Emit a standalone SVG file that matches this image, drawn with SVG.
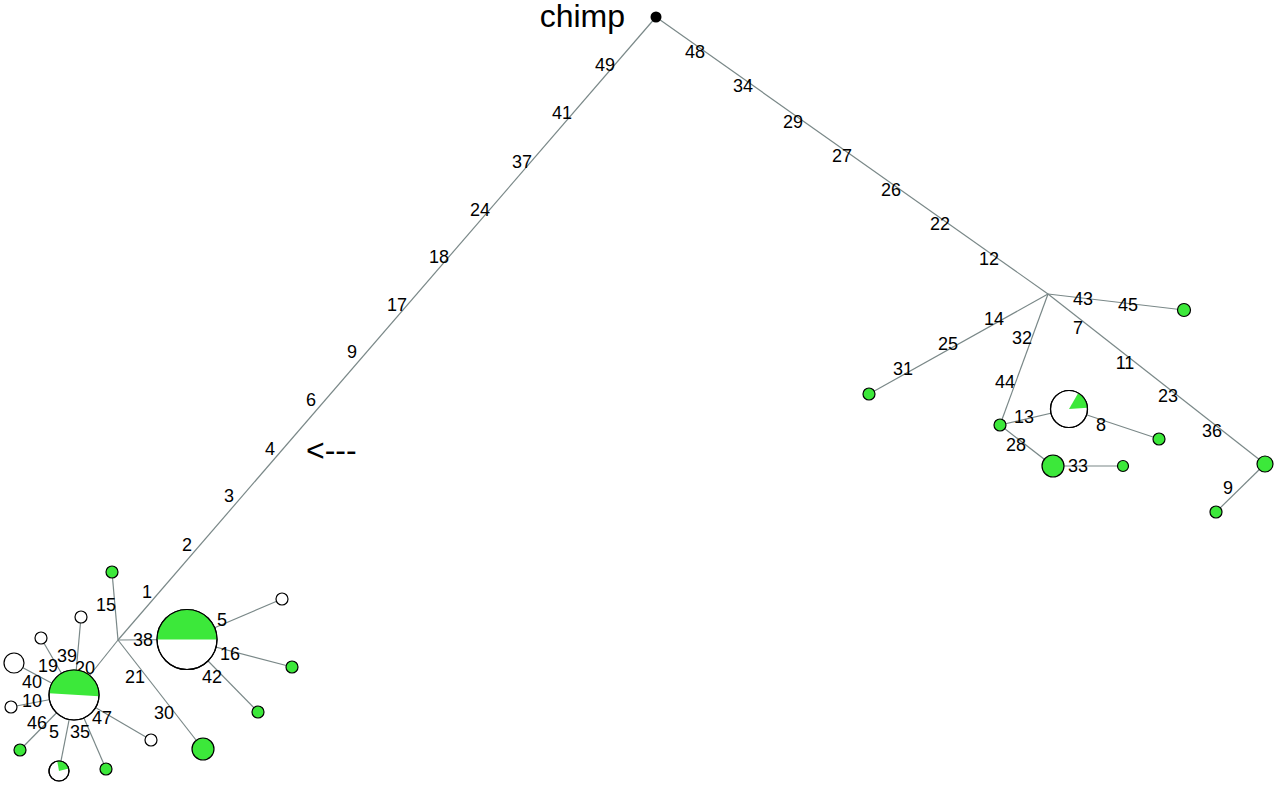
<svg xmlns="http://www.w3.org/2000/svg" width="1280" height="785" viewBox="0 0 1280 785">
<style>
.e{stroke:#7a8888;stroke-width:1.2;fill:none}
.g{fill:#3ce83a;stroke:#000;stroke-width:1.2}
.w{fill:#fff;stroke:#000;stroke-width:1.2}
.gf{fill:#3ce83a;stroke:none}
.o{fill:none;stroke:#000;stroke-width:1.2}
.l{font-family:"Liberation Sans",Arial,sans-serif;font-size:18px;fill:#000;text-anchor:middle}
.big{font-family:"Liberation Sans",Arial,sans-serif;font-size:32px;fill:#000}
</style>
<rect width="1280" height="785" fill="#fff"/>
<g id="connectors">
<line class="e" x1="656" y1="17" x2="118" y2="640"/>
<line class="e" x1="656" y1="17" x2="1048" y2="294"/>
<line class="e" x1="118" y1="640" x2="112" y2="572"/>
<line class="e" x1="118" y1="640" x2="187" y2="639.5"/>
<line class="e" x1="118" y1="640" x2="203" y2="749"/>
<line class="e" x1="118" y1="640" x2="74" y2="695"/>
<line class="e" x1="187" y1="639.5" x2="282" y2="599"/>
<line class="e" x1="187" y1="639.5" x2="292" y2="667"/>
<line class="e" x1="187" y1="639.5" x2="258" y2="712"/>
<line class="e" x1="74" y1="695" x2="41" y2="638"/>
<line class="e" x1="74" y1="695" x2="81" y2="617"/>
<line class="e" x1="74" y1="695" x2="14" y2="663"/>
<line class="e" x1="74" y1="695" x2="11" y2="707"/>
<line class="e" x1="74" y1="695" x2="20" y2="750"/>
<line class="e" x1="74" y1="695" x2="59" y2="771"/>
<line class="e" x1="74" y1="695" x2="106" y2="769"/>
<line class="e" x1="74" y1="695" x2="151" y2="740"/>
<line class="e" x1="1048" y1="294" x2="1184" y2="310"/>
<line class="e" x1="1048" y1="294" x2="869" y2="394"/>
<line class="e" x1="1048" y1="294" x2="1000" y2="425"/>
<line class="e" x1="1048" y1="294" x2="1265" y2="464"/>
<line class="e" x1="1265" y1="464" x2="1216" y2="512"/>
<line class="e" x1="1000" y1="425" x2="1069" y2="409"/>
<line class="e" x1="1069" y1="409" x2="1159" y2="439"/>
<line class="e" x1="1000" y1="425" x2="1053" y2="466"/>
<line class="e" x1="1053" y1="466" x2="1123" y2="466"/>
</g>
<g id="edge-labels" class="l">
<text x="605" y="71">49</text>
<text x="562" y="119">41</text>
<text x="522" y="168">37</text>
<text x="480" y="216">24</text>
<text x="439" y="263">18</text>
<text x="397" y="311">17</text>
<text x="352" y="358">9</text>
<text x="311" y="406">6</text>
<text x="270" y="455">4</text>
<text x="229" y="502">3</text>
<text x="187" y="551">2</text>
<text x="147" y="598">1</text>
<text x="695" y="58">48</text>
<text x="743" y="92">34</text>
<text x="793" y="128">29</text>
<text x="842" y="162">27</text>
<text x="891" y="196">26</text>
<text x="940" y="230">22</text>
<text x="989" y="265">12</text>
<text x="106" y="611">15</text>
<text x="143" y="646">38</text>
<text x="222" y="626">5</text>
<text x="230" y="660">16</text>
<text x="212" y="683">42</text>
<text x="135" y="683">21</text>
<text x="164" y="719">30</text>
<text x="67" y="662">39</text>
<text x="48" y="672">19</text>
<text x="85" y="674">20</text>
<text x="32" y="688">40</text>
<text x="32" y="707">10</text>
<text x="37" y="729">46</text>
<text x="54" y="738">5</text>
<text x="80" y="738">35</text>
<text x="102" y="724">47</text>
<text x="1083" y="305">43</text>
<text x="1128" y="311">45</text>
<text x="994" y="325">14</text>
<text x="948" y="350">25</text>
<text x="903" y="375">31</text>
<text x="1022" y="344">32</text>
<text x="1005" y="388">44</text>
<text x="1078" y="334">7</text>
<text x="1125" y="369">11</text>
<text x="1168" y="402">23</text>
<text x="1212" y="437">36</text>
<text x="1228" y="494">9</text>
<text x="1024" y="423">13</text>
<text x="1101" y="431">8</text>
<text x="1016" y="451">28</text>
<text x="1078" y="472">33</text>
</g>
<g id="annotation"><text class="big" x="306" y="461">&lt;---</text></g>
<g id="chimp"><circle cx="656" cy="17" r="5.5" fill="#000"/><text class="big" x="625" y="27" text-anchor="end">chimp</text></g>
<g id="hub-left"><circle cx="118" cy="640" r="0" fill="none"/></g>
<g id="hub-right"><circle cx="1048" cy="294" r="0" fill="none"/></g>
<g id="n-big-pie"><circle class="w" cx="187" cy="639.5" r="30"/><path class="gf" d="M157,639.5 A30,30 0 0 1 217,639.5 Z"/><circle class="o" cx="187" cy="639.5" r="30"/></g>
<g id="n-left-pie"><circle class="w" cx="74" cy="695" r="25"/><path class="gf" d="M49.06,693.26 A25,25 0 0 1 98.97,696.31 Z"/><circle class="o" cx="74" cy="695" r="25"/></g>
<g id="n-small-pie"><circle class="w" cx="59" cy="771" r="10"/><path class="gf" d="M59,771 L57.26,761.15 A10,10 0 0 1 68.66,768.41 Z"/><circle class="o" cx="59" cy="771" r="10"/></g>
<g id="n-right-pie"><circle class="w" cx="1069" cy="409" r="18.5"/><path class="gf" d="M1069,409 L1078.25,392.98 A18.5,18.5 0 0 1 1087.45,407.71 Z"/><circle class="o" cx="1069" cy="409" r="18.5"/></g>
<g id="n15"><circle class="g" cx="112" cy="572" r="6"/></g>
<g id="n30"><circle class="g" cx="203" cy="749" r="11"/></g>
<g id="n5b"><circle class="w" cx="282" cy="599" r="6"/></g>
<g id="n16"><circle class="g" cx="292" cy="667" r="6"/></g>
<g id="n42"><circle class="g" cx="258" cy="712" r="6"/></g>
<g id="n19"><circle class="w" cx="41" cy="638" r="6"/></g>
<g id="n39"><circle class="w" cx="81" cy="617" r="6"/></g>
<g id="n40"><circle class="w" cx="14" cy="663" r="10"/></g>
<g id="n10"><circle class="w" cx="11" cy="707" r="6"/></g>
<g id="n46"><circle class="g" cx="20" cy="750" r="6"/></g>
<g id="n35"><circle class="g" cx="106" cy="769" r="6"/></g>
<g id="n47"><circle class="w" cx="151" cy="740" r="6"/></g>
<g id="n45"><circle class="g" cx="1184" cy="310" r="6.5"/></g>
<g id="n31"><circle class="g" cx="869" cy="394" r="6"/></g>
<g id="n44"><circle class="g" cx="1000" cy="425" r="6"/></g>
<g id="n36"><circle class="g" cx="1265" cy="464" r="8"/></g>
<g id="n9"><circle class="g" cx="1216" cy="512" r="6"/></g>
<g id="n8"><circle class="g" cx="1159" cy="439" r="6"/></g>
<g id="n28"><circle class="g" cx="1053" cy="466" r="11"/></g>
<g id="n33"><circle class="g" cx="1123" cy="466" r="5.5"/></g>
</svg>
